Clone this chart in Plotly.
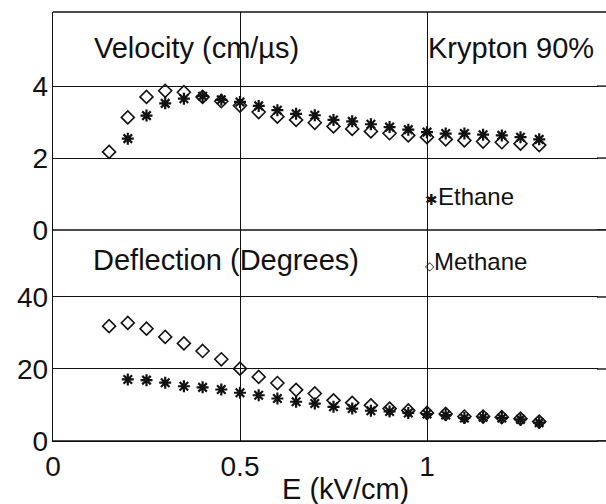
import plotly.graph_objects as go

# ---------------- data ----------------
E_methane = [0.15, 0.20, 0.25, 0.30, 0.35, 0.40, 0.45, 0.50, 0.55, 0.60, 0.65, 0.70,
             0.75, 0.80, 0.85, 0.90, 0.95, 1.00, 1.05, 1.10, 1.15, 1.20, 1.25, 1.30]
E_ethane = [0.20, 0.25, 0.30, 0.35, 0.40, 0.45, 0.50, 0.55, 0.60, 0.65, 0.70,
            0.75, 0.80, 0.85, 0.90, 0.95, 1.00, 1.05, 1.10, 1.15, 1.20, 1.25, 1.30]

vel_methane = [2.17, 3.13, 3.70, 3.87, 3.83, 3.70, 3.58, 3.46, 3.28, 3.15, 3.06, 2.98,
               2.88, 2.81, 2.74, 2.69, 2.63, 2.58, 2.52, 2.49, 2.46, 2.44, 2.40, 2.36]
vel_ethane = [2.54, 3.18, 3.52, 3.65, 3.72, 3.62, 3.56, 3.45, 3.33, 3.23, 3.19,
              3.06, 3.02, 2.94, 2.86, 2.79, 2.72, 2.68, 2.68, 2.65, 2.63, 2.58, 2.52]

defl_methane = [31.9, 32.8, 31.2, 28.9, 27.1, 25.0, 22.7, 20.1, 17.8, 16.1, 14.2, 13.2,
                11.3, 10.6, 9.9, 9.0, 8.5, 7.8, 7.5, 6.8, 6.8, 6.6, 6.2, 5.4]
defl_ethane = [17.1, 16.9, 16.2, 15.2, 14.9, 14.3, 13.4, 12.7, 11.8, 10.9, 10.4,
               9.5, 9.0, 8.4, 8.2, 7.8, 7.5, 7.2, 6.4, 6.6, 6.4, 6.0, 5.1]

x_ticks = [0, 0.5, 1]
x_ticktext = ["0", "0.5", "1"]
vel_ticks = [0, 2, 4]
defl_ticks = [0, 20, 40]

FONT = "Liberation Sans, Arial, Helvetica, sans-serif"
INK = "#111111"
LW = 1.4

fig = go.Figure()

diamond = dict(symbol="diamond-open", size=10, color=INK, line=dict(color=INK, width=1.6))
star = dict(symbol="asterisk-open", size=10, color=INK, line=dict(color=INK, width=2.2))

fig.add_trace(go.Scatter(x=E_methane, y=vel_methane, mode="markers", marker=diamond,
                         xaxis="x", yaxis="y", showlegend=False))
fig.add_trace(go.Scatter(x=E_ethane, y=vel_ethane, mode="markers", marker=star,
                         xaxis="x", yaxis="y", showlegend=False))
fig.add_trace(go.Scatter(x=E_methane, y=defl_methane, mode="markers", marker=diamond,
                         xaxis="x2", yaxis="y2", showlegend=False))
fig.add_trace(go.Scatter(x=E_ethane, y=defl_ethane, mode="markers", marker=star,
                         xaxis="x2", yaxis="y2", showlegend=False))

split = 211 / 429
x_range = [0, 1.4786]

tickfont = dict(family=FONT, size=28, color=INK)
grid = dict(showgrid=True, gridcolor=INK, gridwidth=LW, zeroline=False, ticks="")

fig.update_layout(
    width=606, height=504,
    margin=dict(l=53, r=0, t=12, b=63),
    paper_bgcolor="white", plot_bgcolor="white",
    font=dict(family=FONT, color=INK),
    xaxis=dict(domain=[0, 1], anchor="y", range=x_range, tickvals=x_ticks,
               showticklabels=False, showline=False, **grid),
    yaxis=dict(domain=[split, 1], anchor="x", range=[0, 6.06], tickvals=vel_ticks,
               showline=True, linecolor=INK, linewidth=LW, tickfont=tickfont,
               ticklabelstandoff=-2, **grid),
    xaxis2=dict(domain=[0, 1], anchor="y2", range=x_range, tickvals=x_ticks,
                ticktext=x_ticktext, tickfont=tickfont, showline=True,
                linecolor=INK, linewidth=LW, **grid),
    yaxis2=dict(domain=[0, split], anchor="x2", range=[0, 58.6], tickvals=defl_ticks,
                showline=True, linecolor=INK, linewidth=LW, tickfont=tickfont,
                ticklabelstandoff=-2, **grid),
)

# the reference plot is cut off at the right edge: no right frame line there
edge = 1 - 8 / 553
fig.add_shape(type="rect", xref="paper", yref="paper", x0=edge, x1=1.01, y0=-0.005,
              y1=1.005, fillcolor="white", line=dict(width=0), layer="above")
# horizontal rules continue to the edge of the picture
for ref, vals in (("y", vel_ticks), ("y2", defl_ticks)):
    for v in vals:
        fig.add_shape(type="line", xref="paper", yref=ref, x0=edge - 0.002, x1=1,
                      y0=v, y1=v, line=dict(color=INK, width=LW), layer="above")
for yy in (0, split, 1):
    fig.add_shape(type="line", xref="paper", yref="paper", x0=0, x1=1, y0=yy, y1=yy,
                  line=dict(color=INK, width=LW), layer="above")

ann_font = dict(family=FONT, size=29, color=INK)
leg_font = dict(family=FONT, size=24, color=INK)
fig.add_annotation(text="Velocity (cm/µs)", x=0.104, y=5.06, xref="x", yref="y",
                   xanchor="left", yanchor="middle", showarrow=False, font=ann_font)
fig.add_annotation(text="Krypton 90%", x=0.998, y=5.06, xref="x", yref="y",
                   xanchor="left", yanchor="middle", showarrow=False, font=ann_font)
fig.add_annotation(text="Deflection (Degrees)", x=0.101, y=50.3, xref="x2", yref="y2",
                   xanchor="left", yanchor="middle", showarrow=False, font=ann_font)
fig.add_annotation(text="<span style='font-size:15px'>✱</span>Ethane", x=0.99, y=0.92,
                   xref="x", yref="y", xanchor="left", yanchor="middle",
                   showarrow=False, font=leg_font)
fig.add_annotation(text="<span style='font-size:12px'>◇</span>Methane", x=0.99, y=49.8,
                   xref="x2", yref="y2", xanchor="left", yanchor="middle",
                   showarrow=False, font=leg_font)
fig.add_annotation(text="E (kV/cm)", x=0.783, y=-48 / 429, xref="x2", yref="paper",
                   xanchor="center", yanchor="middle", showarrow=False, font=ann_font)

fig.write_html("out.html")
